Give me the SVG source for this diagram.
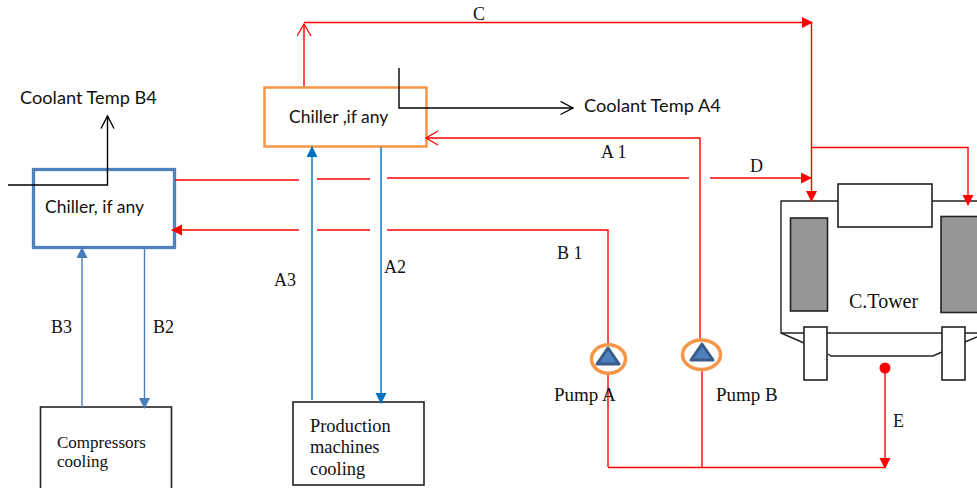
<svg xmlns="http://www.w3.org/2000/svg" width="977" height="488" viewBox="0 0 977 488">
<style>
.s{font-family:Lato,"Open Sans",sans-serif;font-size:17.500px;fill:#111}
.f{font-family:"Liberation Serif",serif;font-size:18px;fill:#111}
.r{fill:none;stroke:#f00;stroke-width:1.4}
.k{fill:none;stroke:#000;stroke-width:1.4}
.bx{fill:#fff;stroke:#222;stroke-width:1.6}
.gr{fill:#969696;stroke:#222;stroke-width:1.6}
.pc{fill:#fff;stroke:#f79646;stroke-width:3.5}
.pt{fill:#4f81bd;stroke:#385d8a;stroke-width:3;stroke-linejoin:round}
</style>
<defs>
<marker id="rf" markerUnits="userSpaceOnUse" markerWidth="12" markerHeight="12" refX="10" refY="5.500" orient="auto"><path d="M0,0L11,5.500L0,11Z" fill="#f00"/></marker>
<marker id="ro" markerUnits="userSpaceOnUse" markerWidth="15" markerHeight="16" refX="13" refY="7.500" orient="auto"><path d="M1,0.500L13,7.500L1,14.500" fill="none" stroke="#f00" stroke-width="1.300"/></marker>
<marker id="ko" markerUnits="userSpaceOnUse" markerWidth="16" markerHeight="16" refX="13.500" refY="7.500" orient="auto"><path d="M1,1L13.500,7.500L1,14" fill="none" stroke="#000" stroke-width="1.400"/></marker>
<marker id="bf" markerUnits="userSpaceOnUse" markerWidth="12" markerHeight="12" refX="10" refY="5.500" orient="auto"><path d="M0,0L11,5.500L0,11Z" fill="#0070c0"/></marker>
<marker id="lf" markerUnits="userSpaceOnUse" markerWidth="12" markerHeight="12" refX="10" refY="5.500" orient="auto"><path d="M0,0L11,5.500L0,11Z" fill="#4a7ebb"/></marker>
</defs>

<g id="tower">
<path class="k" d="M977,201H781V333H977" style="stroke:#222"/>
<path class="k" d="M781,333L804,343M828,354L831,356H933L942,352M965,342L977,337" style="stroke:#222"/>
<rect class="bx" x="838" y="184" width="94" height="43"/>
<rect class="gr" x="790.500" y="218" width="37" height="93"/>
<rect class="gr" x="941" y="216.500" width="40" height="96"/>
<rect class="bx" x="804" y="327" width="23" height="53"/>
<rect class="bx" x="942" y="327" width="23" height="53"/>
<text class="f" x="849" y="308" style="font-size:20px">C.Tower</text>
</g>

<g id="chiller-b">
<rect x="33.500" y="169.500" width="141" height="78" fill="#fff" stroke="#4f81bd" stroke-width="3.300"/>
<text class="s" x="45" y="213">Chiller, if any</text>
</g>
<g id="chiller-a">
<rect x="264.500" y="87.500" width="162" height="59" fill="#fff" stroke="#f79646" stroke-width="2.500"/>
<text class="s" x="289" y="123">Chiller ,if any</text>
</g>
<g id="compressors">
<rect class="bx" x="40.500" y="407" width="131" height="90"/>
<text class="f" x="57" y="448" style="font-size:17px">Compressors</text>
<text class="f" x="57" y="467" style="font-size:17px">cooling</text>
</g>
<g id="production">
<rect class="bx" x="293" y="402" width="131" height="83"/>
<text class="f" x="310" y="432" style="font-size:18.400px">Production</text>
<text class="f" x="310" y="453" style="font-size:18.400px">machines</text>
<text class="f" x="310" y="475" style="font-size:18.400px">cooling</text>
</g>

<g id="connectors">
<path class="k" d="M8,185H107.500V116" marker-end="url(#ko)"/>
<path class="k" d="M399,68V108H573" marker-end="url(#ko)"/>
<path class="r" d="M304,86V24" marker-end="url(#ro)"/>
<path class="r" d="M304,22.500H812" marker-end="url(#rf)"/>
<path class="r" d="M811.500,22V201" marker-end="url(#rf)"/>
<path class="r" d="M811.500,147.500H968V205" marker-end="url(#rf)"/>
<path class="r" d="M710,178H811" marker-end="url(#rf)"/>
<path class="r" d="M175,180H299M317,179H370M387,178H689"/>
<path class="r" d="M299,230H172" marker-end="url(#rf)"/>
<path class="r" d="M317,230H370M387,230H608V347"/>
<path class="r" d="M608,374V467M702,371V467"/>
<path class="r" d="M700,339V138H426" marker-end="url(#ro)"/>
<path class="r" d="M608,467.500H885"/>
<path class="r" d="M885,368V468" marker-end="url(#rf)"/>
<circle cx="885" cy="368" r="5.500" fill="#f00"/>
<path d="M312,400V147" fill="none" stroke="#0070c0" stroke-width="1.400" marker-end="url(#bf)"/>
<path d="M381,147V403" fill="none" stroke="#0070c0" stroke-width="1.400" marker-end="url(#bf)"/>
<path d="M82,407V248" fill="none" stroke="#4a7ebb" stroke-width="1.400" marker-end="url(#lf)"/>
<path d="M144.500,248V408" fill="none" stroke="#4a7ebb" stroke-width="1.400" marker-end="url(#lf)"/>
</g>

<g id="pump-a">
<ellipse class="pc" cx="608.500" cy="359" rx="17" ry="14.200"/>
<path class="pt" d="M608,348L597,364H619Z"/>
<text class="f" x="554" y="401" style="font-size:19px">Pump A</text>
</g>
<g id="pump-b">
<ellipse class="pc" cx="701.500" cy="354.700" rx="19" ry="14.700"/>
<path class="pt" d="M702,344L691,360H713Z"/>
<text class="f" x="716" y="401" style="font-size:19px">Pump B</text>
</g>

<g id="labels">
<text class="s" x="20" y="104" style="font-size:18.200px">Coolant Temp B4</text>
<text class="s" x="584" y="112" style="font-size:18.200px">Coolant Temp A4</text>
<text class="f" x="473" y="20">C</text>
<text class="f" x="601" y="158">A 1</text>
<text class="f" x="750" y="172">D</text>
<text class="f" x="557" y="259">B 1</text>
<text class="f" x="274" y="286">A3</text>
<text class="f" x="384" y="273">A2</text>
<text class="f" x="51" y="333">B3</text>
<text class="f" x="153" y="333">B2</text>
<text class="f" x="893" y="427">E</text>
</g>
</svg>
